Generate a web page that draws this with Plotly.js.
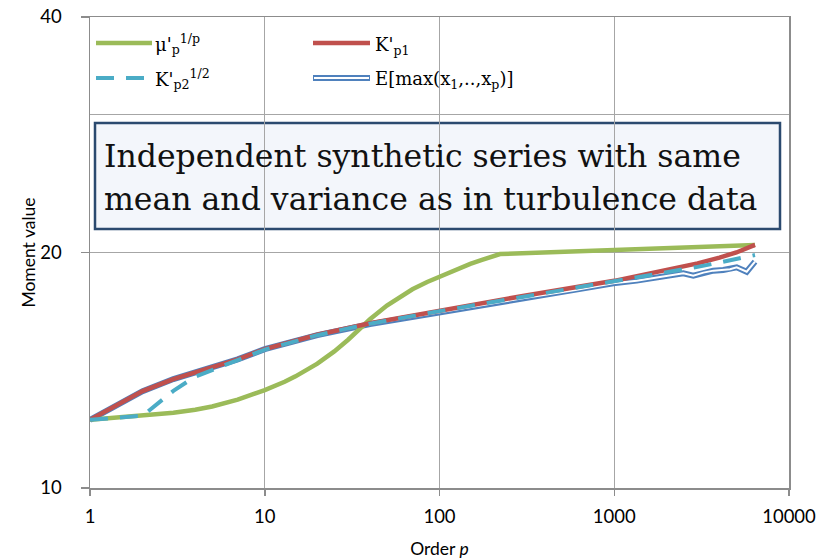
<!DOCTYPE html>
<html>
<head>
<meta charset="utf-8">
<script src="https://cdn.plot.ly/plotly-3.0.1.min.js"></script>
<style>html,body{margin:0;padding:0;background:#fff;}#chart{width:828px;height:559px;}</style>
</head>
<body>
<div id="chart"></div>
<script>
// ---- data ----
const xTickVals = [1, 10, 100, 1000, 10000];
const xTickText = ["1", "10", "100", "1000", "10000"];
const yTickVals = [10, 20, 40];
const yTickText = ["10", "20", "40"];

// mu'_p^(1/p)
const muP = [1, 2, 3, 4, 5, 7, 10, 13, 15, 20, 25, 30, 35, 40, 50, 60, 70, 85, 100, 125, 150, 175, 200, 222, 1000, 6390];
const muV = [12.22, 12.36, 12.48, 12.59, 12.71, 12.97, 13.34, 13.67, 13.89, 14.42, 14.95, 15.47, 15.98, 16.43, 17.11, 17.59, 17.95, 18.34, 18.64, 19.04, 19.34, 19.57, 19.76, 19.91, 20.15, 20.45];

// K'_p1
const k1P = [1, 2, 3, 4, 5, 7, 10, 15, 20, 40, 100, 300, 1000, 2000, 3000, 4000, 5000, 6390];
const k1V = [12.22, 13.3, 13.78, 14.05, 14.25, 14.6, 15.05, 15.42, 15.7, 16.24, 16.85, 17.6, 18.4, 19.0, 19.37, 19.7, 20.0, 20.45];

// K'_p2^(1/2)
const k2P = [1, 2, 3, 4, 5, 7, 10, 20, 40, 100, 300, 1000, 2000, 3000, 4000, 5000, 6390];
const k2V = [12.22, 12.37, 13.31, 13.88, 14.15, 14.55, 15.03, 15.68, 16.22, 16.83, 17.55, 18.33, 18.85, 19.17, 19.42, 19.62, 19.85];

// E[max(x1,..,xp)]
const emP = [1, 2, 3, 4, 5, 7, 10, 15, 20, 40, 100, 300, 600, 988, 1344, 1909, 2277, 2485, 2833, 3236, 3689, 4205, 4596, 5019, 5728, 6390];
const emV = [12.22, 13.3, 13.78, 14.05, 14.25, 14.6, 15.05, 15.42, 15.68, 16.2, 16.78, 17.48, 17.91, 18.27, 18.41, 18.62, 18.72, 18.81, 18.68, 18.85, 18.96, 19.0, 19.04, 19.15, 18.9, 19.47];

const legendLabels = [
  "μ'<sub>p</sub><sup>1/p</sup>",
  "K'<sub>p1</sub>",
  "K'<sub>p2</sub><sup>1/2</sup>",
  "E[max(x<sub>1</sub>,..,x<sub>p</sub>)]"
];
const boxLines = [
  "Independent synthetic series with same",
  "mean and variance as in turbulence data"
];

// ---- styles ----
const GREEN = '#9BBB59', RED = '#C0504D', CYAN = '#4BACC6', BLUE = '#4F81BD';
const GRID = '#a6a6a6', AXIS = '#8c8c8c';
const SANS = 'Lato, "Open Sans", sans-serif';
const SERIF = '"DejaVu Serif", "Liberation Serif", serif';

const traces = [
  {x: emP, y: emV, mode: 'lines', line: {color: BLUE, width: 6}, showlegend: false, hoverinfo: 'skip'},
  {x: emP, y: emV, mode: 'lines', line: {color: '#ffffff', width: 2}, showlegend: false, hoverinfo: 'skip'},
  {x: muP, y: muV, mode: 'lines', line: {color: GREEN, width: 4.5}, showlegend: false},
  {x: k1P, y: k1V, mode: 'lines', line: {color: RED, width: 4.5}, showlegend: false},
  {x: k2P, y: k2V, mode: 'lines', line: {color: CYAN, width: 4, dash: '18px,12px'}, showlegend: false}
];

// plot area in px: x 90..789, y 17..488
const L = 90, R = 789, T = 17, B = 488;
const px = v => (v - L) / (R - L);
const py = v => (B - v) / (B - T);

const shapes = [
  {type: 'rect', xref: 'paper', yref: 'paper', x0: px(95), x1: px(780), y0: py(229), y1: py(123),
   fillcolor: '#F3F6FB', line: {color: '#2B4A6F', width: 2.5}, layer: 'below'},
  {type: 'line', xref: 'paper', yref: 'paper', x0: px(96), x1: px(152), y0: py(43), y1: py(43), line: {color: GREEN, width: 4.5}},
  {type: 'line', xref: 'paper', yref: 'paper', x0: px(313), x1: px(370), y0: py(43), y1: py(43), line: {color: RED, width: 4.5}},
  {type: 'line', xref: 'paper', yref: 'paper', x0: px(96), x1: px(152), y0: py(78), y1: py(78), line: {color: CYAN, width: 4, dash: '18px,12px'}},
  {type: 'line', xref: 'paper', yref: 'paper', x0: px(313), x1: px(370), y0: py(78), y1: py(78), line: {color: BLUE, width: 6}},
  {type: 'line', xref: 'paper', yref: 'paper', x0: px(314), x1: px(369), y0: py(78), y1: py(78), line: {color: '#ffffff', width: 2}}
];

const legFont = {family: SERIF, size: 18, color: '#000'};
const boxFont = {family: SERIF, size: 31.5, color: '#111'};
const annotations = [
  {xref: 'paper', yref: 'paper', x: px(153), y: py(44), xanchor: 'left', yanchor: 'middle', text: legendLabels[0], showarrow: false, font: legFont},
  {xref: 'paper', yref: 'paper', x: px(373), y: py(46), xanchor: 'left', yanchor: 'middle', text: legendLabels[1], showarrow: false, font: legFont},
  {xref: 'paper', yref: 'paper', x: px(153), y: py(79), xanchor: 'left', yanchor: 'middle', text: legendLabels[2], showarrow: false, font: legFont},
  {xref: 'paper', yref: 'paper', x: px(373), y: py(80), xanchor: 'left', yanchor: 'middle', text: legendLabels[3], showarrow: false, font: legFont},
  {xref: 'paper', yref: 'paper', x: px(102), y: py(156), xanchor: 'left', yanchor: 'middle', text: boxLines[0], showarrow: false, font: boxFont},
  {xref: 'paper', yref: 'paper', x: px(102), y: py(199), xanchor: 'left', yanchor: 'middle', text: boxLines[1], showarrow: false, font: boxFont}
];

const layout = {
  width: 828, height: 559,
  margin: {l: 90, r: 39, t: 17, b: 71},
  paper_bgcolor: '#ffffff', plot_bgcolor: '#ffffff',
  showlegend: false,
  font: {family: SANS, size: 18, color: '#000'},
  xaxis: {
    type: 'log', range: [0, 4], tickmode: 'array', tickvals: xTickVals, ticktext: xTickText,
    showgrid: true, gridcolor: GRID, gridwidth: 1,
    showline: true, linecolor: AXIS, linewidth: 1.5, mirror: true,
    ticks: 'outside', ticklen: 6, tickcolor: AXIS, tickwidth: 1.5, ticklabelstandoff: 5,
    tickfont: {family: SANS, size: 18.5, color: '#000'},
    zeroline: false,
    title: {text: 'Order <i>p</i>', font: {family: SANS, size: 17.5, color: '#000'}, standoff: 18}
  },
  yaxis: {
    type: 'log', range: [1, Math.log10(40)], tickmode: 'array', tickvals: yTickVals, ticktext: yTickText,
    showgrid: true, gridcolor: GRID, gridwidth: 1,
    minor: {tickmode: 'array', tickvals: [30], showgrid: true, gridcolor: GRID, gridwidth: 1, ticks: ''},
    showline: true, linecolor: AXIS, linewidth: 1.5, mirror: true,
    ticks: 'outside', ticklen: 8, tickcolor: AXIS, tickwidth: 1.5, ticklabelstandoff: 15,
    tickfont: {family: SANS, size: 18.5, color: '#000'},
    zeroline: false,
    title: {text: 'Moment value', font: {family: SANS, size: 17.5, color: '#000'}, standoff: 0}
  },
  shapes: shapes,
  annotations: annotations
};

Plotly.newPlot('chart', traces, layout, {staticPlot: true, displayModeBar: false});
</script>
</body>
</html>
